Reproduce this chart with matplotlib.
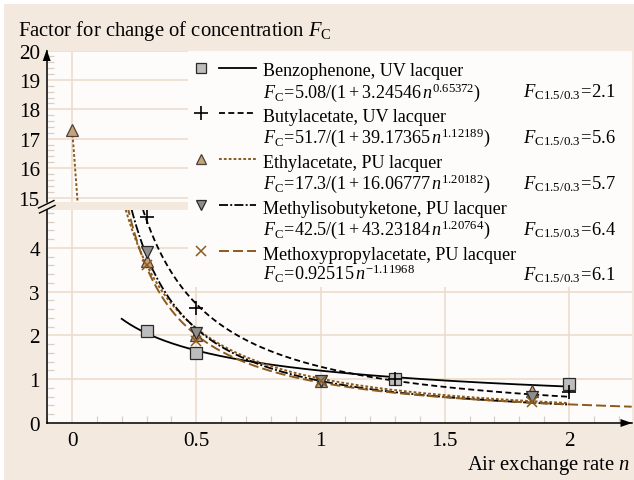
import numpy as np
import matplotlib
matplotlib.use("Agg")
import matplotlib.pyplot as plt
from matplotlib.patches import Rectangle, Polygon
from matplotlib.lines import Line2D
from matplotlib.ticker import MultipleLocator

plt.rcParams['font.family'] = ['Liberation Serif', 'DejaVu Serif']
plt.rcParams['mathtext.fontset'] = 'custom'
plt.rcParams['mathtext.rm'] = 'Liberation Serif'
plt.rcParams['mathtext.it'] = 'Liberation Serif:italic'
plt.rcParams['mathtext.bf'] = 'Liberation Serif:bold'
plt.rcParams['lines.scale_dashes'] = False

# ---------------- data ----------------
series_names = ["Benzophenone, UV lacquer", "Butylacetate, UV lacquer",
                "Ethylacetate, PU lacquer", "Methylisobutyketone, PU lacquer",
                "Methoxypropylacetate, PU lacquer"]
formula_labels = [r"$F_{\mathrm{C}}\!=\!5.08/(1+3.24546\,n^{0.65372})$",
                  r"$F_{\mathrm{C}}\!=\!51.7/(1+39.17365\,n^{1.12189})$",
                  r"$F_{\mathrm{C}}\!=\!17.3/(1+16.06777\,n^{1.20182})$",
                  r"$F_{\mathrm{C}}\!=\!42.5/(1+43.23184\,n^{1.20764})$",
                  r"$F_{\mathrm{C}}\!=\!0.92515\,n^{-1.11968}$"]
ratio_values = ["2.1", "5.6", "5.7", "6.4", "6.1"]

n_benzo = [0.3, 0.5, 1.3, 2.0]
F_benzo = [2.1, 1.6, 1.0, 0.9]
n_butyl = [0.3, 0.5, 1.3, 2.0]
F_butyl = [4.7, 2.62, 1.0, 0.7]
n_ethyl = [0.0, 0.3, 0.5, 1.0, 1.85]
F_ethyl = [17.3, 3.7, 2.0, 0.95, 0.74]
n_mibk = [0.3, 0.5, 1.0, 1.85]
F_mibk = [3.9, 2.05, 0.97, 0.6]
n_mpa = [0.3, 0.5, 1.0, 1.85]
F_mpa = [3.6, 1.88, 0.95, 0.48]

# fitted curve parameters shown in the chart: F = a/(1+b n^c)
fit_benzo = (5.08, 3.24546, 0.65372)
fit_butyl = (51.7, 39.17365, 1.12189)
fit_ethyl = (17.3, 16.06777, 1.20182)
fit_mibk = (42.5, 43.23184, 1.20764)
fit_mpa = (0.92515, -1.11968)  # F = a n^c

yticks_low = [0, 1, 2, 3, 4]
yticks_up = [15, 16, 17, 18, 19, 20]
xticks = [0, 0.5, 1, 1.5, 2]
xticklabels = ["0", "0.5", "1", "1.5", "2"]

# ---------------- style ----------------
W, H = 634, 481
BG = '#f3e9df'
AXBG = '#fdfcfb'
GRID = '#eddccb'
MINOR = '#d8cec4'
BROWN = '#8c5a1c'
FS = 14.9
FS_TICK = 15.2

fig = plt.figure(figsize=(W / 100, H / 100), dpi=100, facecolor='white')
fig.patches.append(Rectangle((4 / W, 0), 1, 1 - 5 / H, transform=fig.transFigure,
                             facecolor=BG, edgecolor='none', zorder=-10))


def fbox(x0, y0, x1, y1):
    return [x0 / W, 1 - y1 / H, (x1 - x0) / W, (y1 - y0) / H]


XL, XR = 46.7, 631.7
x0px, xunit = 72.0, 248.5
xlim = (-(x0px - XL) / xunit, (XR - x0px) / xunit)

ax_low = fig.add_axes(fbox(XL, 210.7, XR, 424))
ax_up = fig.add_axes(fbox(XL, 51.5, XR, 203.3))
for ax in (ax_low, ax_up):
    ax.set_facecolor(AXBG)
    ax.set_xlim(*xlim)
    for s in ('top', 'right', 'bottom'):
        ax.spines[s].set_visible(False)
    ax.spines['left'].set_linewidth(1.1)
    ax.spines['left'].set_color('black')
    ax.set_xticks(xticks)
    ax.grid(True, which='major', color=GRID, lw=1.2, zorder=0)
    ax.set_axisbelow(True)
    ax.yaxis.set_minor_locator(MultipleLocator(0.2))
    ax.tick_params(axis='y', which='major', length=0, pad=5.0, labelsize=FS_TICK)
    ax.tick_params(axis='y', which='minor', direction='in', length=5, width=0.9, color=MINOR)

ax_low.spines['bottom'].set_visible(True)
ax_low.spines['bottom'].set_linewidth(1.1)
ax_low.set_ylim(0, 4.875)
ax_low.set_yticks(yticks_low)
ax_low.set_xticklabels(xticklabels)
ax_low.xaxis.set_minor_locator(MultipleLocator(0.1))
ax_low.tick_params(axis='x', which='major', length=0, pad=6, labelsize=FS_TICK)
ax_low.tick_params(axis='x', which='minor', direction='in', length=5, width=0.9, color=MINOR)

ax_up.set_ylim(14.837, 20)
ax_up.set_yticks(yticks_up)
ax_up.tick_params(axis='x', which='both', length=0, labelbottom=False)


def hyper(n, p):
    a, b, c = p
    return a / (1 + b * n ** c)


n_curve = np.linspace(0.2, 2.0, 400)
n_eth = np.linspace(0.0, 2.0, 800)
n_mp = np.linspace(0.2, xlim[1], 400)

sq_kw = dict(marker='s', ms=8.3, mfc='#bdbdbd', mec='#2a2a2a', mew=0.9, ls='none')
plus_kw = dict(marker='+', ms=9.5, mec='black', mew=1.2, ls='none')
tri_kw = dict(marker='^', ms=8.8, mfc='#c6a27c', mec='#4d4035', mew=0.9, ls='none')
dtri_kw = dict(marker='v', ms=8.8, mfc='#8e8e8e', mec='#2a2a2a', mew=0.9, ls='none')
x_kw = dict(marker='x', ms=6.5, mec=BROWN, mew=1.1, ls='none')

styles = [
    dict(color='black', lw=1.3, ls='-'),
    dict(color='black', lw=1.3, dashes=(4.3, 2.4)),
    dict(color=BROWN, lw=1.4, dashes=(2.0, 1.5)),
    dict(color='black', lw=1.3, dashes=(6.5, 1.6, 1.4, 1.6)),
    dict(color=BROWN, lw=1.4, dashes=(7.2, 2.9)),
]

for ax in (ax_low, ax_up):
    ax.plot(n_curve, hyper(n_curve, fit_benzo), **styles[0], zorder=3)
    ax.plot(n_curve, hyper(n_curve, fit_butyl), **styles[1], zorder=3)
    ax.plot(n_eth, hyper(n_eth, fit_ethyl), **styles[2], zorder=3)
    ax.plot(n_curve, hyper(n_curve, fit_mibk), **styles[3], zorder=3)
    ax.plot(n_mp, fit_mpa[0] * n_mp ** fit_mpa[1], **styles[4], zorder=3)
    ax.plot(n_benzo, F_benzo, **sq_kw, zorder=4)
    ax.plot(n_butyl, F_butyl, **plus_kw, zorder=5)
    ax.plot(n_ethyl, F_ethyl, **tri_kw, zorder=4)
    ax.plot(n_mibk, F_mibk, **dtri_kw, zorder=4)
    ax.plot(n_mpa, F_mpa, **x_kw, zorder=5)

# ---------------- overlay (pixel coordinates) ----------------
ov = fig.add_axes([0, 0, 1, 1], zorder=10)
ov.set_xlim(0, W)
ov.set_ylim(H, 0)
ov.axis('off')
ov.patch.set_visible(False)

# legend box
ov.add_patch(Rectangle((188, 51.5), XR - 188, 288 - 51.5, facecolor=AXBG, edgecolor='none'))
# axis arrows
ov.add_patch(Polygon([(XL - 4, 62), (XL + 4, 62), (XL, 50.5)], closed=True, facecolor='black', edgecolor='none'))
ov.add_patch(Polygon([(620.5, 420), (620.5, 428), (632, 424)], closed=True, facecolor='black', edgecolor='none'))
# break marks
ov.plot([38.5, 54], [209, 201.5], color='black', lw=1.0)
ov.plot([39.5, 55], [214, 206.5], color='black', lw=1.0)

renderer = fig.canvas.get_renderer()

marker_kws = [sq_kw, plus_kw, tri_kw, dtri_kw, x_kw]
name_texts, formula_texts, ratio_texts = [], [], []
for i in range(5):
    yb = 76.5 + 45.8 * i
    ym = yb - 8
    mk = dict(marker_kws[i])
    if mk['marker'] in ('s', '^', 'v'):
        mk['ms'] = mk['ms'] - 1
    ov.plot([200.5], [ym], **mk)
    ov.add_line(Line2D([219, 256], [ym, ym], **styles[i]))
    name_texts.append(ov.text(263, yb, series_names[i], fontsize=FS, va='baseline', ha='left'))
    formula_texts.append(ov.text(263, yb + 21, formula_labels[i], fontsize=FS, va='baseline', ha='left'))
    ratio_texts.append(ov.text(523, yb + 21, r"$F_{\mathrm{C1.5/0.3}}\!=\!$" + ratio_values[i],
                               fontsize=FS, va='baseline', ha='left'))


def fit_group(texts, target):
    w = texts[0].get_window_extent(renderer).width
    fs = FS * target / w
    for t in texts:
        t.set_fontsize(fs)


# legend text sizes matched to the widths seen in the chart
fit_group(name_texts, 199.0)
fit_group(formula_texts, 218.0)
fit_group(ratio_texts, 92.0)

ov.text(18, 36, r"Factor for change of concentration $F_{\mathrm{C}}$", fontsize=FS,
        va='baseline', ha='left')
ov.text(630, 470, r"Air exchange rate $n$", fontsize=FS, va='baseline', ha='right')

fig.savefig('out.png', dpi=100, facecolor=fig.get_facecolor())
